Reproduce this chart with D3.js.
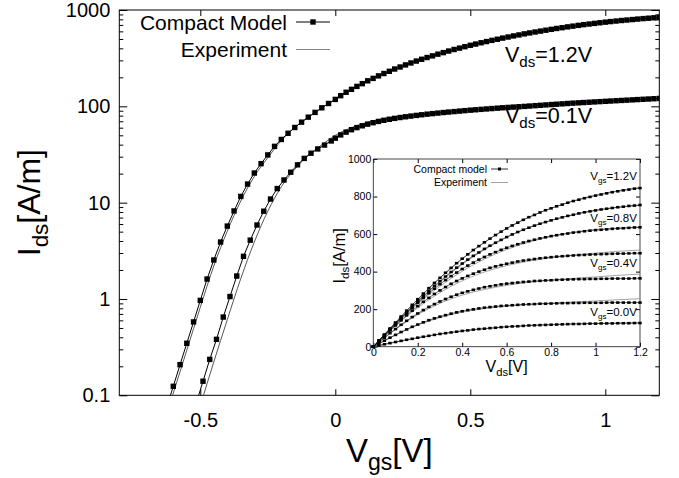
<!DOCTYPE html>
<html>
<head>
<meta charset="utf-8">
<script src="https://cdn.jsdelivr.net/npm/d3@7"></script>
<style>
  html, body { margin: 0; padding: 0; background: #fff; }
  svg { display: block; font-family: "Liberation Sans", Arial, Helvetica, sans-serif; }
</style>
</head>
<body>
<svg id="chart" width="679" height="478"></svg>
<script>
/*****************  Main plot data: Ids vs Vgs  **********************/

var vgsLow12 = [-0.625, -0.6, -0.575, -0.55, -0.525, -0.5, -0.475, -0.45, -0.425, -0.4, -0.375, -0.35,
    -0.325, -0.3, -0.275, -0.25, -0.225, -0.2, -0.175, -0.15, -0.125, -0.1, -0.075, -0.05, -0.025];
var vgsLow01 = [-0.515, -0.49, -0.465, -0.44, -0.415, -0.39, -0.365, -0.34, -0.315, -0.29, -0.265,
    -0.24, -0.215, -0.19, -0.165, -0.14, -0.115, -0.09, -0.065, -0.04, -0.015];
var vgsHigh = [0, 0.02, 0.04, 0.06, 0.08, 0.1, 0.12, 0.14, 0.16, 0.18, 0.2, 0.22, 0.24, 0.26, 0.28, 0.3,
    0.32, 0.34, 0.36, 0.38, 0.4, 0.42, 0.44, 0.46, 0.48, 0.5, 0.52, 0.54, 0.56, 0.58, 0.6, 0.62, 0.64,
    0.66, 0.68, 0.7, 0.72, 0.74, 0.76, 0.78, 0.8, 0.82, 0.84, 0.86, 0.88, 0.9, 0.92, 0.94, 0.96, 0.98,
    1.0, 1.02, 1.04, 1.06, 1.08, 1.1, 1.12, 1.14, 1.16, 1.18, 1.2];

// compact model, Vds = 1.2 V (vgsLow12 then vgsHigh)
var modelVds12 = [0.0745, 0.124, 0.208, 0.347, 0.578, 0.966, 1.61, 2.54, 3.90, 5.71, 8.20, 11.6, 15.6,
    20.3, 25.4, 31.3, 38.4, 45.3, 52.5, 60.3, 68.5, 77.2, 86.5, 96.5, 107,
    118, 129, 140, 150, 161, 172, 184, 195, 207, 219, 231, 244, 256, 269, 282, 295, 308, 321, 334, 348,
    361, 375, 389, 402, 416, 430, 443, 457, 470, 484, 497, 511, 524, 538, 551, 565, 578, 591, 604, 617,
    630, 643, 655, 668, 680, 692, 704, 715, 726, 737, 748, 758, 768, 778, 787, 796, 805, 814, 822, 830, 838];

// compact model, Vds = 0.1 V (vgsLow01 then vgsHigh)
var modelVds01 = [0.083, 0.14, 0.236, 0.381, 0.649, 1.06, 1.73, 2.77, 4.08, 5.86, 8.15, 10.9, 14.0,
    17.2, 20.7, 24.7, 28.8, 32.6, 36.1, 39.6, 43.7,
    46.7, 50.5, 54.0, 57.2, 60.1, 62.8, 65.3, 67.6, 69.7, 71.6, 73.4, 75.0, 76.5, 77.9, 79.2, 80.5, 81.7,
    82.9, 84.0, 85.1, 86.2, 87.2, 88.2, 89.2, 90.2, 91.2, 92.1, 93.0, 93.9, 94.8, 95.7, 96.6, 97.4, 98.2,
    99.0, 99.8, 100.7, 101.6, 102.5, 103.4, 104.3, 105.2, 106.1, 107.0, 107.9, 108.7, 109.5, 110.3,
    111.1, 111.9, 112.7, 113.5, 114.3, 115.1, 115.9, 116.7, 117.5, 118.3, 119.1, 119.9, 120.7];

// experiment
var expVgs12 = [-0.62, -0.55, -0.5, -0.45, -0.4, -0.35, -0.3, -0.25, -0.2, -0.15, -0.1, -0.05, 0,
    0.1, 0.2, 0.3, 0.4, 0.5, 0.6, 0.7, 0.8, 0.9, 1.0, 1.1, 1.2];
var expVds12 = [0.070, 0.294, 0.82, 2.20, 5.06, 10.4, 18.7, 29.3, 44.1, 60.3, 77.2, 96.5, 118,
    172, 231, 295, 361, 430, 497, 565, 630, 692, 750, 800, 843];
var expVgs01 = [-0.52, -0.5, -0.45, -0.4, -0.35, -0.3, -0.25, -0.2, -0.15, -0.1, -0.05, 0, 0.05,
    0.1, 0.15, 0.2, 0.3, 0.4, 0.5, 0.6, 0.8, 1.0, 1.2];
var expVds01 = [0.051, 0.078, 0.222, 0.61, 1.63, 3.90, 8.15, 14.6, 22.2, 31.0, 39.8, 50.0, 58.5,
    66.0, 71.8, 76.3, 82.5, 87.3, 91.8, 96.0, 104.8, 113.2, 121.0];

var yTicksMain = [0.1, 1, 10, 100, 1000];
var xTicksMain = [-0.5, 0, 0.5, 1];

/*****************  Inset data: Ids vs Vds  **********************/

var vdsGrid = [0, 0.025, 0.05, 0.075, 0.1, 0.125, 0.15, 0.175, 0.2, 0.225, 0.25, 0.275, 0.3, 0.325,
    0.35, 0.375, 0.4, 0.425, 0.45, 0.475, 0.5, 0.525, 0.55, 0.575, 0.6, 0.625, 0.65, 0.675, 0.7, 0.725,
    0.75, 0.775, 0.8, 0.825, 0.85, 0.875, 0.9, 0.925, 0.95, 0.975, 1.0, 1.025, 1.05, 1.075, 1.1, 1.125,
    1.15, 1.175, 1.2];

var modelVgs12 = [0,33,65,97,129,161,192,223,253,283,312,340,367,394,420,445,469,492,515,536,556,576,
    595,613,630,646,661,676,690,702,715,727,737,748,757,767,776,783,791,798,805,811,817,823,828,833,837,842,845];
var modelVgs10 = [0,31,62,93,124,154,184,213,242,270,297,324,349,374,398,421,443,464,484,502,521,538,
    554,569,584,598,611,623,634,645,655,664,673,682,689,697,703,710,716,721,726,731,735,739,743,746,750,752,755];
var modelVgs08 = [0,31,61,91,121,150,179,207,234,260,285,309,333,355,376,395,414,432,448,464,478,492,
    504,516,527,537,546,555,563,570,577,583,589,594,599,603,608,611,615,618,621,623,625,628,630,631,633,635,636];
var modelVgs06 = [0,29,57,86,113,140,167,192,216,239,260,281,300,318,335,350,364,377,389,400,410,420,
    428,435,442,448,454,459,463,467,471,474,477,480,482,484,486,488,489,491,492,493,494,495,496,496,497,498,498];
var modelVgs04 = [0,24,48,72,94,117,138,158,177,195,212,227,241,254,266,277,287,295,303,310,317,322,
    327,332,336,339,342,345,347,350,351,353,354,356,357,358,359,360,360,361,361,362,362,363,363,363,363,364,364];
var modelVgs02 = [0,16,32,48,63,78,92,106,118,130,141,151,160,168,176,183,189,195,199,204,208,211,
    214,217,219,221,223,225,226,227,229,229,230,231,232,232,233,233,234,234,234,234,235,235,235,235,235,235,235];
var modelVgs00 = [0,6,13,19,25,31,37,42,48,53,58,63,68,72,76,80,84,87,91,94,96,99,101,104,106,108,
    109,111,113,114,115,116,117,118,119,120,121,121,122,123,123,124,124,124,125,125,125,126,126];

var vdsExp = [0, 0.1, 0.2, 0.3, 0.4, 0.5, 0.6, 0.7, 0.8, 0.9, 1.0, 1.1, 1.2];
var expVgs12In = [0, 128, 251, 365, 467, 555, 630, 690, 738, 777, 808, 831, 848];
var expVgs10In = [0, 123, 240, 345, 438, 517, 583, 634, 673, 703, 727, 742, 753];
var expVgs08In = [0, 119, 228, 322, 402, 467, 518, 557, 587, 610, 625, 632, 638];
var expVgs06In = [0, 111, 208, 288, 351, 398, 432, 456, 474, 488, 499, 508, 515];
var expVgs04In = [0, 92, 171, 231, 275, 305, 327, 343, 355, 364, 372, 380, 387];
var expVgs02In = [0, 62, 115, 155, 184, 203, 216, 225, 232, 238, 244, 250, 256];
var expVgs00In = [0, 24, 47, 67, 83, 96, 106, 113, 118, 122, 124, 126, 128];

var insetModels = [modelVgs12, modelVgs10, modelVgs08, modelVgs06, modelVgs04, modelVgs02, modelVgs00];
var insetExps = [expVgs12In, expVgs10In, expVgs08In, expVgs06In, expVgs04In, expVgs02In, expVgs00In];
var insetCurveLabels = ["1.2", "0.8", "0.4", "0.0"];
var insetLabelLevels = [888, 664, 425, 164];
var xTicksInset = [0, 0.2, 0.4, 0.6, 0.8, 1, 1.2];
var yTicksInset = [0, 200, 400, 600, 800, 1000];

/*****************  Helpers  **********************/

function zip(xs, ys) {
    return ys.map(function (v, i) { return [xs[i], v]; });
}

function subText(g, main, sub, rest, size, subShift) {
    g.append("tspan").text(main);
    g.append("tspan").text(sub).attr("dy", subShift).style("font-size", (size * 0.7) + "px");
    g.append("tspan").text(rest).attr("dy", -subShift).style("font-size", size + "px");
    return g;
}

function plain(d) { return String(d); }

var svg = d3.select("#chart");

/*****************  Main plot  **********************/

var mLeft = 119.3, mRight = 659.3, mTop = 10, mBottom = 395.3;

var x = d3.scaleLinear().domain([-0.8, 1.2]).range([mLeft, mRight]);
var y = d3.scaleLog().domain([0.1, 1000]).range([mBottom, mTop]);

svg.append("defs").append("clipPath").attr("id", "mainClip")
    .append("rect")
    .attr("x", mLeft).attr("y", mTop)
    .attr("width", mRight - mLeft).attr("height", mBottom - mTop);

var minorY = y.ticks().filter(function (d) { return yTicksMain.indexOf(d) < 0; });

function styleAxis(g) {
    g.select(".domain").remove();
    g.selectAll("line").attr("stroke", "#000").attr("stroke-width", 1);
    g.selectAll("text").attr("fill", "#000");
}

svg.append("g").attr("transform", "translate(" + mLeft + ",0)")
    .call(d3.axisLeft(y).tickValues(yTicksMain).tickSizeInner(-8).tickPadding(9).tickFormat(plain))
    .call(styleAxis)
    .selectAll("text").style("font-size", "20px").style("font-family", "inherit");

svg.append("g").attr("transform", "translate(" + mLeft + ",0)")
    .call(d3.axisLeft(y).tickValues(minorY).tickSizeInner(-4).tickFormat(""))
    .call(styleAxis);

svg.append("g").attr("transform", "translate(" + mRight + ",0)")
    .call(d3.axisRight(y).tickValues(yTicksMain).tickSizeInner(-8).tickFormat(""))
    .call(styleAxis);

svg.append("g").attr("transform", "translate(" + mRight + ",0)")
    .call(d3.axisRight(y).tickValues(minorY).tickSizeInner(-4).tickFormat(""))
    .call(styleAxis);

svg.append("g").attr("transform", "translate(0," + mBottom + ")")
    .call(d3.axisBottom(x).tickValues(xTicksMain).tickSizeInner(-6).tickPadding(18).tickFormat(plain))
    .call(styleAxis)
    .selectAll("text").style("font-size", "20px").style("font-family", "inherit");

svg.append("g").attr("transform", "translate(0," + mTop + ")")
    .call(d3.axisTop(x).tickValues(xTicksMain).tickSizeInner(-6).tickFormat(""))
    .call(styleAxis);

svg.append("rect")
    .attr("x", mLeft).attr("y", mTop)
    .attr("width", mRight - mLeft).attr("height", mBottom - mTop)
    .attr("fill", "none").attr("stroke", "#000").attr("stroke-width", 1);

var mainLine = d3.line()
    .x(function (d) { return x(d[0]); })
    .y(function (d) { return y(d[1]); });

var expLineMain = d3.line()
    .x(function (d) { return x(d[0]); })
    .y(function (d) { return y(d[1]); })
    .curve(d3.curveMonotoneX);

var curves = svg.append("g").attr("clip-path", "url(#mainClip)");

var expSets = [zip(expVgs12, expVds12), zip(expVgs01, expVds01)];
var modelSets = [zip(vgsLow12.concat(vgsHigh), modelVds12), zip(vgsLow01.concat(vgsHigh), modelVds01)];

curves.selectAll(".expMain")
    .data(expSets)
    .enter()
    .append("path")
    .attr("class", "expMain")
    .attr("d", expLineMain)
    .attr("fill", "none")
    .attr("stroke", "#444")
    .attr("stroke-width", 0.9);

curves.selectAll(".modelMain")
    .data(modelSets)
    .enter()
    .append("path")
    .attr("class", "modelMain")
    .attr("d", mainLine)
    .attr("fill", "none")
    .attr("stroke", "#000")
    .attr("stroke-width", 1);

var ms = 5.4;
modelSets.forEach(function (set) {
    curves.append("g").selectAll("rect")
        .data(set)
        .enter()
        .append("rect")
        .attr("x", function (d) { return x(d[0]) - ms / 2; })
        .attr("y", function (d) { return y(d[1]) - ms / 2; })
        .attr("width", ms)
        .attr("height", ms)
        .attr("fill", "#000");
});

/*****************  Main labels  **********************/

subText(svg.append("text")
    .attr("transform", "translate(40," + ((mTop + mBottom) / 2) + ") rotate(-90)")
    .attr("text-anchor", "middle")
    .style("font-size", "32px"), "I", "ds", "[A/m]", 32, 8);

subText(svg.append("text")
    .attr("x", (mLeft + mRight) / 2).attr("y", 462)
    .attr("text-anchor", "middle")
    .style("font-size", "33px"), "V", "gs", "[V]", 33, 8);

subText(svg.append("text")
    .attr("x", x(0.6285)).attr("y", y(288))
    .style("font-size", "21.5px"), "V", "ds", "=1.2V", 21.5, 5);

subText(svg.append("text")
    .attr("x", x(0.6285)).attr("y", y(67))
    .style("font-size", "21.5px"), "V", "ds", "=0.1V", 21.5, 5);

// legend
var legend = svg.append("g");
legend.append("text").attr("x", 287).attr("y", 30).attr("text-anchor", "end")
    .style("font-size", "21px").text("Compact Model");
legend.append("text").attr("x", 287).attr("y", 57).attr("text-anchor", "end")
    .style("font-size", "21px").text("Experiment");
legend.append("line").attr("x1", 296).attr("x2", 330).attr("y1", 22).attr("y2", 22)
    .attr("stroke", "#000").attr("stroke-width", 1);
legend.append("rect").attr("x", 313 - ms / 2).attr("y", 22 - ms / 2)
    .attr("width", ms).attr("height", ms).attr("fill", "#000");
legend.append("line").attr("x1", 296).attr("x2", 330).attr("y1", 49.5).attr("y2", 49.5)
    .attr("stroke", "#777").attr("stroke-width", 0.9);

/*****************  Inset  **********************/

var iLeft = 373.3, iRight = 640, iTop = 159, iBottom = 346.7;

var xi = d3.scaleLinear().domain([0, 1.2]).range([iLeft, iRight]);
var yi = d3.scaleLinear().domain([0, 1000]).range([iBottom, iTop]);

svg.append("rect")
    .attr("x", iLeft).attr("y", iTop)
    .attr("width", iRight - iLeft).attr("height", iBottom - iTop)
    .attr("fill", "#fff");

svg.append("g").attr("transform", "translate(" + iLeft + ",0)")
    .call(d3.axisLeft(yi).tickValues(yTicksInset).tickSizeInner(-4).tickPadding(2).tickFormat(plain))
    .call(styleAxis)
    .selectAll("text").style("font-size", "10.5px").style("font-family", "inherit");

svg.append("g").attr("transform", "translate(" + iRight + ",0)")
    .call(d3.axisRight(yi).tickValues(yTicksInset).tickSizeInner(-4).tickFormat(""))
    .call(styleAxis);

svg.append("g").attr("transform", "translate(0," + iBottom + ")")
    .call(d3.axisBottom(xi).tickValues(xTicksInset).tickSizeInner(-4).tickPadding(2).tickFormat(plain))
    .call(styleAxis)
    .selectAll("text").style("font-size", "10.5px").style("font-family", "inherit");

svg.append("g").attr("transform", "translate(0," + iTop + ")")
    .call(d3.axisTop(xi).tickValues(xTicksInset).tickSizeInner(-4).tickFormat(""))
    .call(styleAxis);

svg.append("rect")
    .attr("x", iLeft).attr("y", iTop)
    .attr("width", iRight - iLeft).attr("height", iBottom - iTop)
    .attr("fill", "none").attr("stroke", "#333").attr("stroke-width", 0.9);

var insetLine = d3.line()
    .x(function (d) { return xi(d[0]); })
    .y(function (d) { return yi(d[1]); });

var insetExpLine = d3.line()
    .x(function (d) { return xi(d[0]); })
    .y(function (d) { return yi(d[1]); })
    .curve(d3.curveMonotoneX);

var insetG = svg.append("g");

insetG.selectAll(".expInset")
    .data(insetExps.map(function (s) { return zip(vdsExp, s); }))
    .enter()
    .append("path")
    .attr("class", "expInset")
    .attr("d", insetExpLine)
    .attr("fill", "none")
    .attr("stroke", "#999")
    .attr("stroke-width", 0.9);

var insetSets = insetModels.map(function (s) { return zip(vdsGrid, s); });

insetG.selectAll(".modelInset")
    .data(insetSets)
    .enter()
    .append("path")
    .attr("class", "modelInset")
    .attr("d", insetLine)
    .attr("fill", "none")
    .attr("stroke", "#000")
    .attr("stroke-width", 0.6);

var mw = 3.4, mh = 2.6;
insetSets.forEach(function (set) {
    insetG.append("g").selectAll("rect")
        .data(set)
        .enter()
        .append("rect")
        .attr("x", function (d) { return xi(d[0]) - mw / 2; })
        .attr("y", function (d) { return yi(d[1]) - mh / 2; })
        .attr("width", mw)
        .attr("height", mh)
        .attr("fill", "#000");
});

insetCurveLabels.forEach(function (lab, i) {
    subText(svg.append("text")
        .attr("x", xi(1.186)).attr("y", yi(insetLabelLevels[i]))
        .attr("text-anchor", "end")
        .style("font-size", "11.5px"), "V", "gs", "=" + lab + "V", 11.5, 3);
});

subText(svg.append("text")
    .attr("x", (iLeft + iRight) / 2).attr("y", 372)
    .attr("text-anchor", "middle")
    .style("font-size", "16px"), "V", "ds", "[V]", 16, 4);

subText(svg.append("text")
    .attr("transform", "translate(345," + ((iTop + iBottom) / 2 + 3) + ") rotate(-90)")
    .attr("text-anchor", "middle")
    .style("font-size", "16.5px"), "I", "ds", "[A/m]", 16.5, 4);

// inset legend
var ilg = svg.append("g");
ilg.append("text").attr("x", 487).attr("y", 172.5).attr("text-anchor", "end")
    .style("font-size", "10.5px").text("Compact model");
ilg.append("text").attr("x", 487).attr("y", 186).attr("text-anchor", "end")
    .style("font-size", "10.5px").text("Experiment");
ilg.append("line").attr("x1", 491).attr("x2", 508).attr("y1", 169).attr("y2", 169)
    .attr("stroke", "#000").attr("stroke-width", 0.8);
ilg.append("rect").attr("x", 499.5 - 1.5).attr("y", 169 - 1.5)
    .attr("width", 3).attr("height", 3).attr("fill", "#000");
ilg.append("line").attr("x1", 491).attr("x2", 508).attr("y1", 182.5).attr("y2", 182.5)
    .attr("stroke", "#999").attr("stroke-width", 0.9);
</script>
</body>
</html>
